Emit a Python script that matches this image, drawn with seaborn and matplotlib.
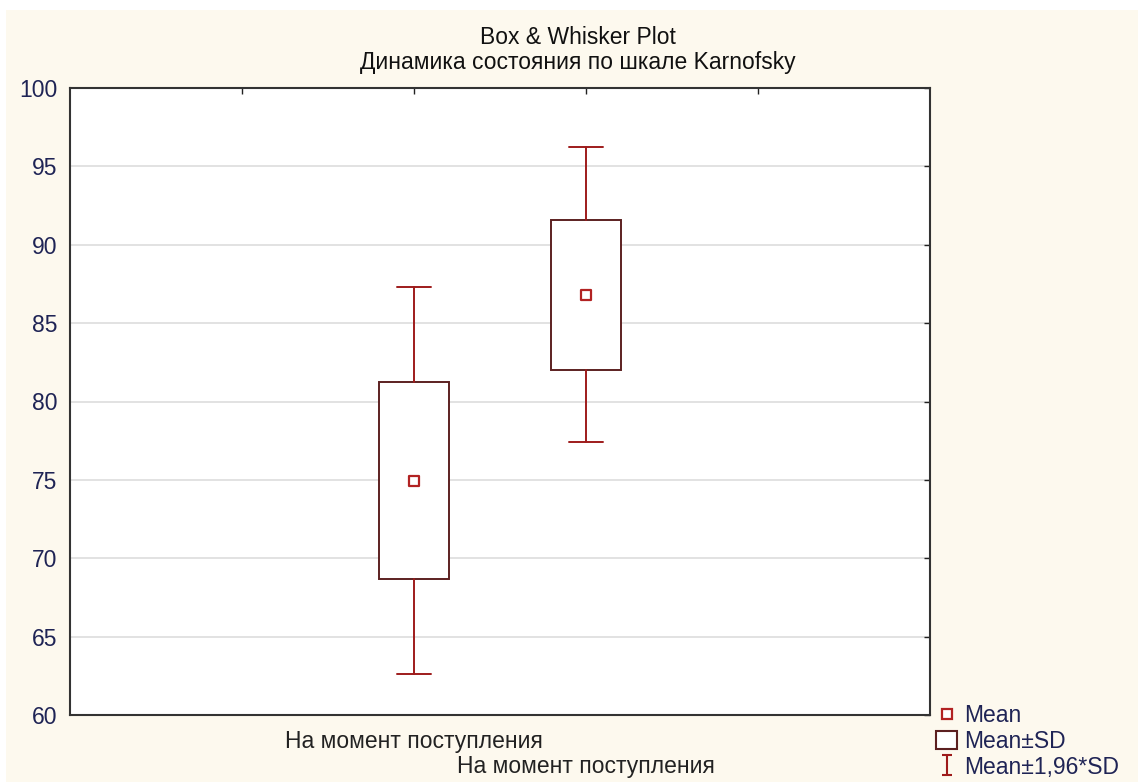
import matplotlib
matplotlib.use("Agg")
import matplotlib.pyplot as plt
import matplotlib.transforms as mtransforms
import seaborn as sns
import numpy as np
import pandas as pd
from matplotlib.lines import Line2D
from matplotlib.patches import Rectangle
from matplotlib.path import Path

## data
groups = ["На момент поступления", "На момент поступления"]
positions = [2, 3]
means = [74.95, 86.8]
sds = [6.3, 4.8]
k = 1.96

title = "Box & Whisker Plot"
subtitle = "Динамика состояния по шкале Karnofsky"
legend_labels = ["Mean", "Mean±SD", "Mean±1,96*SD"]

## style
sns.set_style("white")
plt.rcParams["font.family"] = ["Liberation Sans", "DejaVu Sans"]
bg = "#fdf9ee"
box_col = "#5c2020"
wh_col = "#9e1b1b"
txt_col = "#1f2455"
fs = 16.5

fig = plt.figure(figsize=(11.38, 7.82), dpi=100, facecolor="white")
# cream panel with a thin white margin at top/left, as in the screenshot
fig.patches.append(Rectangle((6 / 1138, 0), 1, 1 - 10 / 782,
                             transform=fig.transFigure, facecolor=bg,
                             edgecolor="none", zorder=-10))
ax = fig.add_axes([70 / 1138, 1 - 715 / 782, 860 / 1138, 627 / 782])
ax.set_facecolor("white")

## box stats: box = mean +- SD, whiskers = mean +- 1.96*SD
stats = []
for m, s in zip(means, sds):
    stats.append(dict(med=m, q1=m - s, q3=m + s,
                      whislo=m - k * s, whishi=m + k * s, fliers=[]))
ax.bxp(stats, positions=positions, widths=0.41, showfliers=False,
       patch_artist=True, manage_ticks=False,
       boxprops=dict(facecolor="white", edgecolor=box_col, linewidth=1.4),
       whiskerprops=dict(color=wh_col, linewidth=1.4),
       capprops=dict(color=wh_col, linewidth=1.4),
       medianprops=dict(linewidth=0), capwidths=0.2)

df = pd.DataFrame({"x": positions, "mean": means})
sns.scatterplot(data=df, x="x", y="mean", ax=ax, marker="s", s=45,
                facecolor="white", edgecolor="#b22222", linewidth=1.6,
                zorder=5, legend=False)

## axes
ax.set_xlim(0, 5)
ax.set_ylim(60, 100)
ax.set_yticks(np.arange(60, 101, 5))
ax.set_xticks([1, 2, 3, 4])
ax.set_xticklabels(["", groups[0], groups[1], ""], color="#222222")
ax.tick_params(axis="both", direction="in", length=4, width=1,
               top=True, right=True, labelsize=fs, colors="#222222")
ax.tick_params(axis="y", labelcolor=txt_col, pad=9)
ax.tick_params(axis="x", pad=11)
# staggered category labels: push the second one down a line
lab2 = ax.get_xticklabels()[2]
lab2.set_transform(lab2.get_transform() +
                   mtransforms.ScaledTranslation(0, -0.25, fig.dpi_scale_trans))
ax.yaxis.grid(True, color="#dddddd", linewidth=1.2)
ax.xaxis.grid(False)
ax.set_axisbelow(True)
for sp in ax.spines.values():
    sp.set_color("#333333")
    sp.set_linewidth(1.5)
ax.set_xlabel("")
ax.set_ylabel("")

## titles
fig.text(578 / 1138, 1 - 37 / 782, title, ha="center", va="center",
         fontsize=fs, color="#111111")
fig.text(578 / 1138, 1 - 62 / 782, subtitle, ha="center", va="center",
         fontsize=fs, color="#111111")

## legend
ibar = Path([(-0.5, -1), (0.5, -1), (0, -1), (0, 1), (-0.5, 1), (0.5, 1)],
            [Path.MOVETO, Path.LINETO, Path.MOVETO, Path.LINETO,
             Path.MOVETO, Path.LINETO])
handles = [
    Line2D([], [], linestyle="none", marker="s", markersize=6.5,
           markerfacecolor="white", markeredgecolor="#b22222",
           markeredgewidth=1.6),
    Rectangle((0, 0), 1, 1, facecolor="white", edgecolor=box_col,
              linewidth=1.5),
    Line2D([], [], linestyle="none", marker=ibar, markersize=15,
           markeredgecolor=wh_col, markeredgewidth=1.5),
]
leg = fig.legend(handles, legend_labels, loc="lower left",
                 bbox_to_anchor=(934 / 1138, 1 / 782), frameon=False,
                 fontsize=fs, handlelength=0.9, handleheight=0.8,
                 handletextpad=0.3, labelspacing=0.12, borderaxespad=0,
                 borderpad=0.1)
for t in leg.get_texts():
    t.set_color(txt_col)

fig.savefig("out.png", dpi=100, facecolor="white")
